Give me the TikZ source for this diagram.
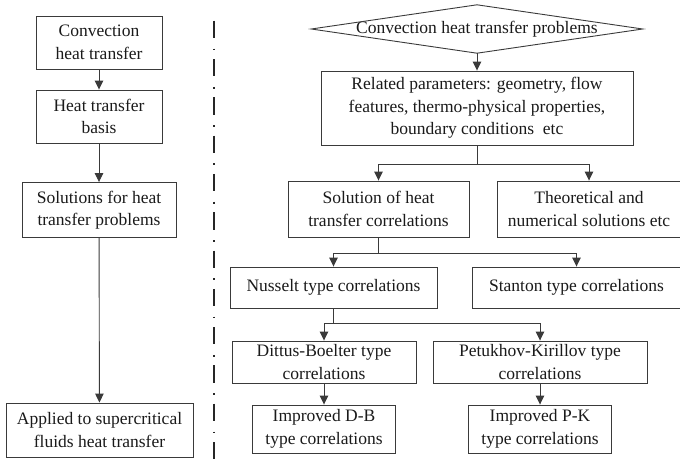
\documentclass[tikz,border=0pt]{standalone}
\usepackage{fontspec}
\setmainfont{Liberation Serif}
\usetikzlibrary{arrows.meta}
\definecolor{linegray}{HTML}{3A3A3A}
\definecolor{textgray}{HTML}{1A1A1A}
\tikzset{
  box/.style={draw=linegray, line width=0.9pt, rectangle, inner sep=0pt,
    align=center, text=textgray, font=\fontsize{17.5}{22.5}\selectfont},
  label/.style={inner sep=0pt, align=center, text=textgray,
    font=\fontsize{17.5}{22.5}\selectfont},
  arr/.style={draw=linegray, line width=0.9pt,
    -{Triangle[length=9pt,width=8.5pt]}},
  link/.style={draw=linegray, line width=0.9pt},
  divider/.style={draw=black!85, line width=2pt,
    dash pattern=on 17.3pt off 10.5pt on 1.8pt off 8.7pt}
}
\begin{document}
\begin{tikzpicture}[x=1pt, y=-1pt]
\useasboundingbox (0,0) rectangle (680,461);
\clip (0,0) rectangle (680,461);

% left column
\node[box, minimum width=126pt, minimum height=53pt] (b1) at (99,42.5) {Convection\\heat transfer};
\node[box, minimum width=126pt, minimum height=53pt] (b2) at (99,116.5) {Heat transfer\\basis};
\node[box, minimum width=154pt, minimum height=55pt] (b3) at (99,210) {Solutions for heat\\transfer problems};
\node[box, minimum width=187pt, minimum height=54pt] (b4) at (99.5,430) {Applied to supercritical\\fluids heat transfer};
\draw[arr] (b1) -- (b2);
\draw[arr] (b2) -- (b3);
\draw[arr] (b3) -- (b4);

% dash-dot separator
\coordinate (sepTop) at (214,20.7);
\coordinate (sepBot) at (214,461);
\draw[divider] (sepTop) -- (sepBot);

% right column
\node[label, minimum width=331pt, minimum height=48pt] (d) at (477,29) {Convection heat transfer problems};
\draw[link] (d.west) -- (d.north) -- (d.east) -- (d.south) -- cycle;
\node[box, minimum width=312pt, minimum height=74pt] (rp) at (477,108)
  {Related parameters: geometry, flow\\features, thermo-physical properties,\\boundary conditions\ \ etc};
\node[box, minimum width=181pt, minimum height=56pt] (s) at (378.5,209) {Solution of heat\\transfer correlations};
\node[box, minimum width=184pt, minimum height=56pt] (t) at (589,209) {Theoretical and\\numerical solutions etc};
\node[box, minimum width=207pt, minimum height=41pt] (n) at (333.5,287.5) {Nusselt type correlations};
\node[box, minimum width=209pt, minimum height=41pt] (st) at (576.5,287.5) {Stanton type correlations};
\node[box, minimum width=184pt, minimum height=42pt] (db) at (324,362) {Dittus-Boelter type\\correlations};
\node[box, minimum width=214pt, minimum height=42pt] (pk) at (540,362) {Petukhov-Kirillov type\\correlations};
\node[box, minimum width=143pt, minimum height=48pt] (idb) at (324,429) {Improved D-B\\type correlations};
\node[box, minimum width=143pt, minimum height=48pt] (ipk) at (540,429) {Improved P-K\\type correlations};

\draw[arr] (d.south) -- (rp.north);
\draw[link] (rp.south) -- ++(0,19) coordinate (j1);
\draw[arr] (j1) -| (s.north);
\draw[arr] (j1) -| (t.north);
\draw[link] (s.south) -- ++(0,16) coordinate (j2);
\draw[arr] (j2) -| (n.north);
\draw[arr] (j2) -| (st.north);
\draw[link] (n.south) -- ++(0,15) coordinate (j3);
\draw[arr] (j3) -| (db.north);
\draw[arr] (j3) -| (pk.north);
\draw[arr] (db) -- (idb);
\draw[arr] (pk) -- (ipk);
\end{tikzpicture}
\end{document}
